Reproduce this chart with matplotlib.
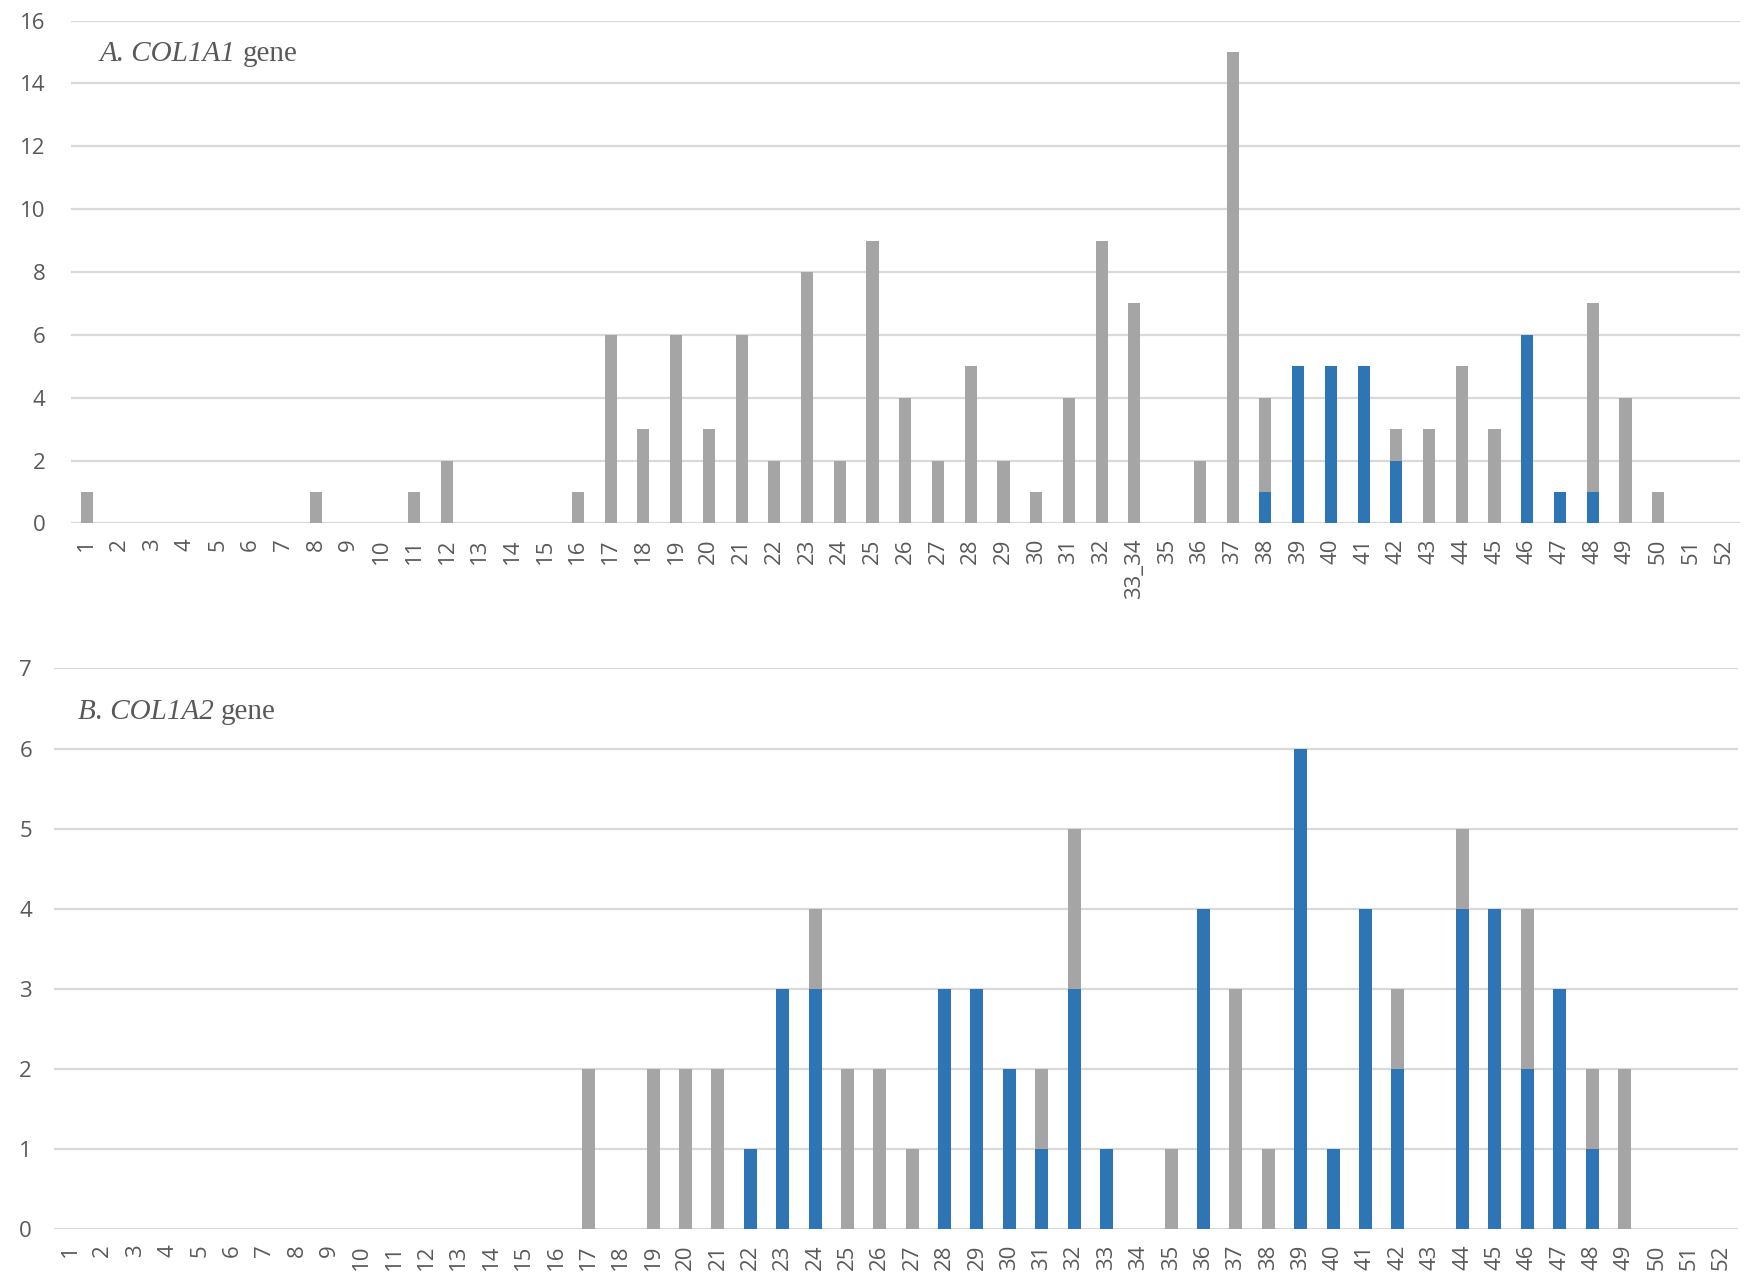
import matplotlib
matplotlib.use("Agg")
import matplotlib.pyplot as plt
import numpy as np

# ---- Data ----
cats_a = [str(i) for i in range(1, 33)] + ["33_34"] + [str(i) for i in range(35, 53)]
blue_a = [0]*36 + [1, 5, 5, 5, 2, 0, 0, 0, 6, 1, 1, 0, 0, 0, 0]
total_a = [1, 0, 0, 0, 0, 0, 0, 1, 0, 0, 1, 2, 0, 0, 0, 1, 6, 3, 6, 3, 6, 2, 8, 2, 9, 4, 2, 5, 2, 1,
           4, 9, 7, 0, 2, 15, 4, 5, 5, 5, 3, 3, 5, 3, 6, 1, 7, 4, 1, 0, 0]

cats_b = [str(i) for i in range(1, 53)]
blue_b = [0]*21 + [1, 3, 3, 0, 0, 0, 3, 3, 2, 1, 3, 1, 0, 0, 4, 0, 0, 6, 1, 4, 2, 0, 4, 4, 2, 3, 1, 0, 0, 0, 0]
total_b = [0]*16 + [2, 0, 2, 2, 2, 1, 3, 4, 2, 2, 1, 3, 3, 2, 2, 5, 1, 0, 1, 4, 3, 1, 6, 1, 4, 3, 0,
                    5, 4, 4, 3, 2, 2, 0, 0, 0]

GREY = "#A5A5A5"
BLUE = "#2E75B6"
GRID = "#D9D9D9"
TXT = "#595959"

fig = plt.figure(figsize=(17.5, 12.83), dpi=100)
ax1 = fig.add_axes([0.0403, 0.592, 0.954, 0.392])
ax2 = fig.add_axes([0.031, 0.042, 0.962, 0.437])


def draw(ax, cats, blue, total, ymax, width, title_it, title_x, title_y, ypad):
    x = np.arange(len(cats))
    blue = np.array(blue)
    total = np.array(total)
    grey = total - blue
    ax.bar(x, blue, width=width, color=BLUE, zorder=3)
    ax.bar(x, grey, bottom=blue, width=width, color=GREY, zorder=3)
    ax.set_xlim(-0.5, len(cats) - 0.5)
    ax.set_ylim(0, ymax)
    ax.set_xticks(x)
    ax.set_xticklabels(cats, rotation=90, fontsize=16, color=TXT, family="Open Sans")
    ax.tick_params(axis="x", length=0, pad=11)
    ax.tick_params(axis="y", length=0, labelsize=16, labelcolor=TXT, pad=ypad)
    for lab in ax.get_yticklabels():
        lab.set_family("Open Sans")
    ax.yaxis.grid(True, color=GRID, linewidth=1.6, zorder=0)
    ax.set_axisbelow(True)
    for s in ax.spines.values():
        s.set_visible(False)
    t = ax.text(title_x, title_y, title_it, transform=ax.transAxes, fontsize=21,
                family="Liberation Serif", style="italic", color=TXT, va="center", ha="left")
    fig.canvas.draw()
    bb = t.get_window_extent()
    inv = ax.transAxes.inverted()
    x1 = inv.transform((bb.x1, bb.y0))[0]
    ax.text(x1 + 0.004, title_y, "gene", transform=ax.transAxes, fontsize=21,
            family="Liberation Serif", color=TXT, va="center", ha="left")


draw(ax1, cats_a, blue_a, total_a, 16, 0.37, "A. COL1A1", 0.0176, 0.934, 18)
ax1.set_yticks(range(0, 17, 2))
draw(ax2, cats_b, blue_b, total_b, 7, 0.40, "B. COL1A2", 0.014, 0.923, 16)
ax2.set_yticks(range(0, 8))

fig.savefig("out.png", dpi=100)
